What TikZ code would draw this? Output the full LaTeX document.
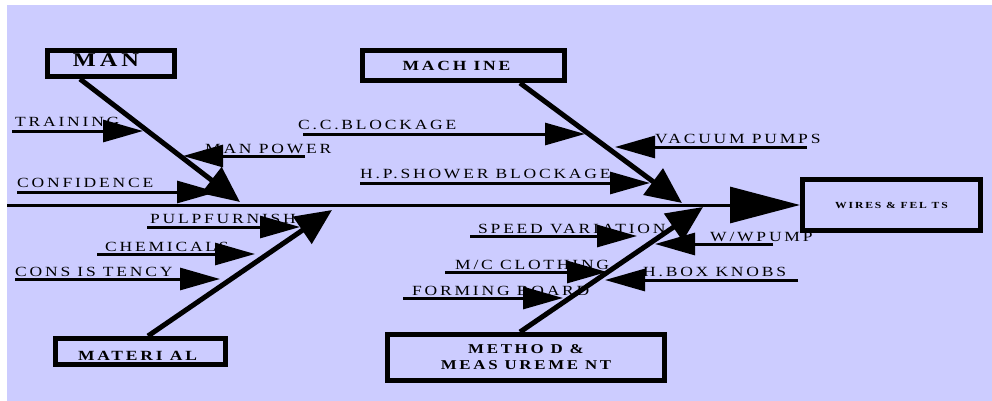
\documentclass[tikz,border=0pt]{standalone}
\usepackage{fontspec}
\setmainfont{Liberation Serif}
\newfontfamily\lblfont[FakeStretch=1.25,LetterSpace=20]{Liberation Serif}
\usepackage{xcolor}
\usepackage{tikz}
\usetikzlibrary{calc}
\usetikzlibrary{arrows.meta}
\definecolor{lavender}{RGB}{204,204,255}

\tikzset{
  catbox/.style={draw,line width=5pt,inner sep=0pt,align=center,font=\lblfont\bfseries},
  causetext/.style={anchor=base west,inner sep=0pt,font=\lblfont\fontsize{14}{16}\selectfont},
  causearrow/.style={line width=3pt,-{Triangle[length=40pt,width=22pt]}},
  bone/.style={line width=5pt,-{Triangle[length=36pt,width=32pt]}},
  spine/.style={line width=3pt,-{Triangle[length=70pt,width=36pt]}}
}

\begin{document}
\begin{tikzpicture}[x=1pt,y=-1pt]
		\useasboundingbox (0,0) rectangle (992,401);
		\fill[lavender] (7,5) rectangle (992,401);
		% category boxes and effect
		\node[catbox,minimum width=127pt,minimum height=26pt,font=\lblfont\bfseries\fontsize{19.5}{21}\selectfont] (man) at (111,63.5) {\raisebox{-3.5pt}[0pt][0pt]{MAN}\hspace{10pt}};
		\node[catbox,minimum width=202pt,minimum height=30pt,font=\lblfont\bfseries\fontsize{14}{16}\selectfont] (machine) at (463.5,65.5) {MACH INE\hspace{14pt}};
		\node[catbox,minimum width=170pt,minimum height=26pt,font=\lblfont\bfseries\fontsize{14}{16}\selectfont] (material) at (140.5,351.5) {\raisebox{-9pt}[0pt][0pt]{MATERI AL}\hspace{6pt}};
		\node[catbox,minimum width=277pt,minimum height=46pt,font=\lblfont\bfseries\fontsize{13.5}{16}\selectfont] (method) at (526,357.5) {METHO D \&\\MEAS UREME NT};
		\node[catbox,minimum width=178pt,minimum height=51pt,font=\lblfont\bfseries\fontsize{9.3}{11}\selectfont] (wires) at (891.5,205) {WIRES \& FEL TS};
		% cause labels
		\node[causetext] (training) at (15,127) {TRAINING};
		\node[causetext] (manpower) at (205,153) {MAN POWER};
		\node[causetext] (confidence) at (17,187) {CONFIDENCE};
		\node[causetext] (ccblock) at (298,129) {C.C.BLOCKAGE};
		\node[causetext] (vacuum) at (655,143) {VACUUM PUMPS};
		\node[causetext] (hpshower) at (360,178) {H.P.SHOWER BLOCKAGE};
		\node[causetext] (pulp) at (150,223) {PULPFURNISH};
		\node[causetext] (chemicals) at (105,251) {CHEMICALS};
		\node[causetext] (consistency) at (15,276) {CONS IS TENCY};
		\node[causetext] (speed) at (478,233) {SPEED VARIATION};
		\node[causetext] (wwpump) at (710,241) {W/WPUMP};
		\node[causetext] (mcclothing) at (455,269) {M/C CLOTHING};
		\node[causetext] (hbox) at (643,276) {H.BOX KNOBS};
		\node[causetext] (forming) at (412,295) {FORMING BOARD};
		% spine
		\draw[spine] (7,205) coordinate (tail) -- (wires.west);
		% cause arrows
		\draw[causearrow] (12,131) coordinate (training s) -- (143,131) coordinate (training t);
		\draw[causearrow] (305,156) coordinate (manpower s) -- (183,156) coordinate (manpower t);
		\draw[causearrow] (17,192) coordinate (confidence s) -- (217,192) coordinate (confidence t);
		\draw[causearrow] (303,134) coordinate (ccblock s) -- (585,134) coordinate (ccblock t);
		\draw[causearrow] (807,147) coordinate (vacuum s) -- (615,147) coordinate (vacuum t);
		\draw[causearrow] (360,183) coordinate (hpshower s) -- (650,183) coordinate (hpshower t);
		\draw[causearrow] (147,227) coordinate (pulp s) -- (300,227) coordinate (pulp t);
		\draw[causearrow] (97,254) coordinate (chemicals s) -- (255,254) coordinate (chemicals t);
		\draw[causearrow] (15,279) coordinate (consistency s) -- (220,279) coordinate (consistency t);
		\draw[causearrow] (470,236) coordinate (speed s) -- (637,236) coordinate (speed t);
		\draw[causearrow] (773,244) coordinate (wwpump s) -- (655,244) coordinate (wwpump t);
		\draw[causearrow] (445,272) coordinate (mcclothing s) -- (607,272) coordinate (mcclothing t);
		\draw[causearrow] (798,280) coordinate (hbox s) -- (605,280) coordinate (hbox t);
		\draw[causearrow] (403,298) coordinate (forming s) -- (563,298) coordinate (forming t);
		% main bones
		\draw[bone] (man.south -| 80,0) -- (240,202) coordinate (man tip);
		\draw[bone] (machine.south -| 520,0) -- (682,203) coordinate (machine tip);
		\draw[bone] (material.north -| 148,0) -- (332,210) coordinate (material tip);
		\draw[bone] (method.north -| 520,0) -- (703,207) coordinate (method tip);
	\end{tikzpicture}
\end{document}
